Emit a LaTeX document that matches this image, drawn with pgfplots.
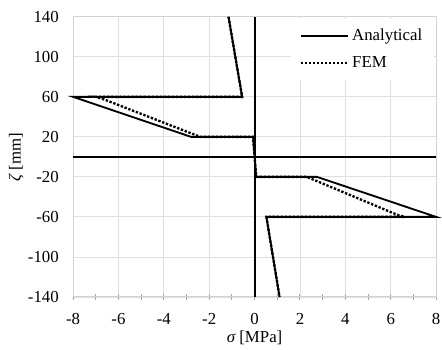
\documentclass[border=0pt]{standalone}
\usepackage{pgfplots}
\pgfplotsset{compat=1.18}
\usepackage{fontspec}
\setmainfont{Liberation Serif}
\begin{document}
\begin{tikzpicture}
\begin{axis}[
  scale only axis,
  width=216pt, height=166.7pt,
  xmin=-8, xmax=8, ymin=-140, ymax=140,
  xtick={-8,-6,...,8},
  ytick={-140,-100,-60,-20,20,60,100,140},
  minor x tick num=1,
  grid=major,
  grid style={gray!25, line width=0.5pt},
  axis line style={gray!35, line width=0.6pt},
  xtick pos=left,
  tick align=center,
  major tick length=4pt, minor tick length=4pt,
  xtick style={gray!70, line width=0.6pt},
  ytick style={draw=none},
  /pgf/number format/assume math mode=true,
  tick label style={font=\fontsize{10}{12}\selectfont},
  xticklabel style={yshift=-4pt},
  yticklabel style={xshift=-3pt},
  extra x ticks={0}, extra y ticks={0},
  extra x tick labels={}, extra y tick labels={},
  extra tick style={grid style={black, line width=1.2pt}, major tick length=0pt},
  xlabel={{\itshape σ} [MPa]},
  ylabel={{\itshape ζ} [mm]},
  xlabel style={at={(axis description cs:0.5,-0.145)}, anchor=center, font=\fontsize{10}{12}\selectfont},
  ylabel style={at={(axis description cs:-0.157,0.5)}, anchor=center, rotate=0, font=\fontsize{10}{12}\selectfont},
  legend style={at={(axis description cs:0.995,0.995)}, anchor=north east, draw=none, fill=white,
    font=\fontsize{10}{12}\selectfont, row sep=4pt, inner xsep=5pt, inner ysep=4pt},
  legend cell align=left,
  legend image code/.code={\draw[#1] (0pt,0pt) -- (28pt,0pt);},
  clip=false,
]
\addplot[black, line width=1.1pt] coordinates {
  (-1.15,140) (-0.55,60) (-8,60) (-2.8,20) (-0.07,20) (0.07,-20) (2.75,-20) (8,-60) (0.52,-60) (1.1,-140)
};
\addlegendentry{Analytical}
\addplot[black, densely dotted, line width=1.4pt] coordinates {
  (-1.15,140) (-0.55,60) (-7,60) (-6.7,58) (-2.4,20) (-0.07,20) (0.07,-20) (2.3,-20) (6.3,-58) (6.6,-60) (0.52,-60) (1.1,-140)
};
\addlegendentry{FEM}
\end{axis}
\pgfresetboundingbox
\path[use as bounding box] ([xshift=-43.5pt,yshift=-31pt]current axis.south west) rectangle ([xshift=3.5pt,yshift=10pt]current axis.north east);
\end{tikzpicture}
\end{document}
